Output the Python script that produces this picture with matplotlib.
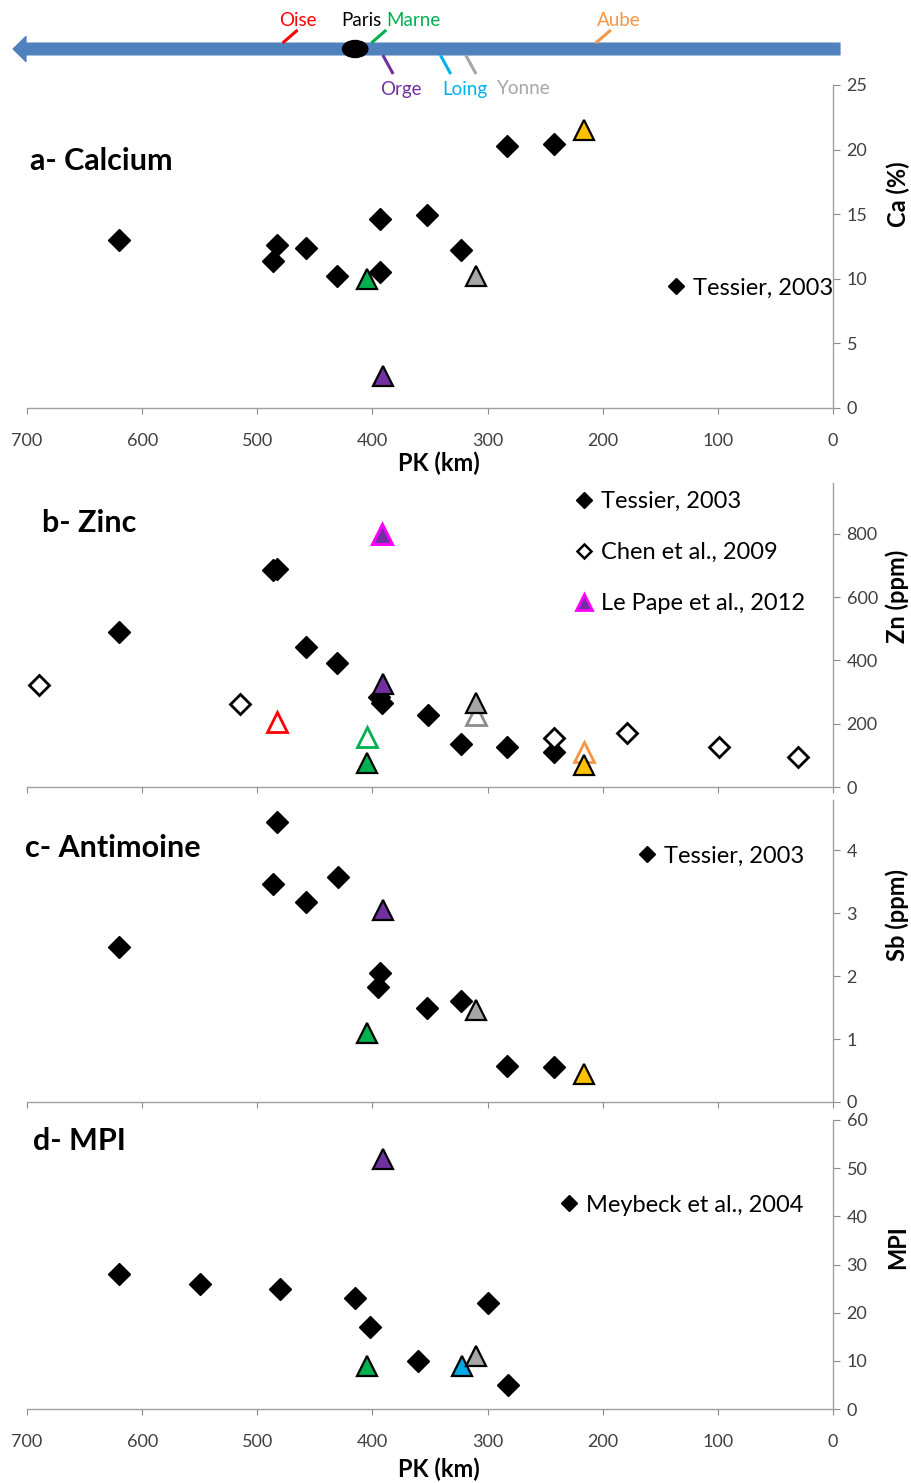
'''
Seine river: Ca, Zn, Sb and MPI along the river (PK), with a river sketch on top
'''
import matplotlib.pyplot as plt
from matplotlib.patches import Ellipse, FancyArrowPatch, ArrowStyle
from matplotlib.lines import Line2D

rc_params = {
    "font.family": ["Lato", "DejaVu Sans"],
    "axes.spines.top": False,
    "axes.spines.left": False,
    "axes.spines.right": True,
    "axes.spines.bottom": True,
    "axes.edgecolor": "#8C8C8C",
    "axes.linewidth": 1.0,
    "xtick.color": "#8C8C8C",
    "ytick.color": "#8C8C8C",
    "xtick.labelcolor": "#404040",
    "ytick.labelcolor": "#404040",
    "xtick.labelsize": 13,
    "ytick.labelsize": 13,
    "xtick.direction": "out",
    "ytick.direction": "out",
    "xtick.major.size": 4.3,
    "ytick.major.size": 4.8,
    "xtick.major.pad": 14,
    "ytick.major.pad": 5,
}
plt.rcParams.update(rc_params)

# ---- data ----
pk_ticks = [0, 100, 200, 300, 400, 500, 600, 700]

# river sketch: confluences (PK, km)
river_names = ["Oise", "Marne", "Aube", "Orge", "Loing", "Yonne"]
river_pk = [478, 401, 206, 391, 341, 319]
river_side = ["up", "up", "up", "down", "down", "down"]
river_colors = ["#FF0000", "#00B050", "#F79646", "#7030A0", "#00B0F0", "#A6A6A6"]
paris_pk = 415

# tributary samples (triangles)
trib_names = ["Oise", "Marne", "Orge", "Loing", "Yonne", "Aube"]
trib_pk = [483, 405, 391, 322, 310, 216]
trib_fill = ["#FF0000", "#00B050", "#7030A0", "#00A8E8", "#A6A6A6", "#FFC000"]
trib_open_edge = ["#FF0000", "#00B050", "#7030A0", "#00A8E8", "#8C8C8C", "#F79646"]

# a- Calcium
ca_tessier_pk = [620, 483, 486, 458, 431, 393, 393, 353, 323, 283, 242]
ca_tessier = [13.0, 12.6, 11.4, 12.4, 10.2, 10.5, 14.6, 14.9, 12.2, 20.3, 20.4]
ca_trib = [None, 10.0, 2.5, None, 10.2, 21.5]

# b- Zinc
zn_tessier_pk = [620, 483, 486, 458, 431, 394, 392, 352, 323, 283, 242]
zn_tessier = [490, 690, 685, 441, 393, 285, 265, 228, 137, 127, 111]
zn_chen_pk = [690, 515, 242, 179, 99, 30]
zn_chen = [322, 262, 155, 169, 125, 95]
zn_lepape_seine_pk = [392]
zn_lepape_seine = [800]
zn_trib = [None, 75, 325, None, 265, 70]
zn_trib_chen = [205, 158, None, None, 227, 112]

# c- Antimoine
sb_tessier_pk = [620, 483, 486, 458, 430, 393, 395, 353, 323, 283, 242]
sb_tessier = [2.46, 4.45, 3.47, 3.18, 3.57, 2.05, 1.82, 1.49, 1.61, 0.57, 0.56]
sb_trib = [None, 1.10, 3.05, None, 1.47, 0.45]

# d- MPI
mpi_meybeck_pk = [620, 550, 480, 415, 402, 360, 300, 282]
mpi_meybeck = [28, 26, 25, 23, 17, 10, 22, 5]
mpi_trib = [None, 9, 52, 9, 11, None]

# ---- layout (pixels of the 912x1483 picture) ----
W, H = 912, 1483
AX_L, AX_R = 27, 833


def fx(px):
    return px / W


def fy(py):
    return 1 - py / H


def make_axes(fig, top, bottom):
    ax = fig.add_axes([fx(AX_L), fy(bottom), (AX_R - AX_L) / W, (bottom - top) / H])
    ax.set_xlim(700, 0)
    ax.set_xticks(pk_ticks)
    ax.yaxis.tick_right()
    ax.patch.set_alpha(0)
    ax.spines["bottom"].set_color("#A0A0A0")
    ax.spines["right"].set_color("#A0A0A0")
    return ax


DIAMOND = dict(marker="D", ms=11, color="black", mec="black", mew=1.0, ls="none", zorder=3)
OPEN_DIAMOND = dict(marker="D", ms=10, mfc="white", mec="black", mew=2.0, ls="none", zorder=3)
TRI = dict(marker="^", ms=14, mec="black", mew=1.6, ls="none", zorder=4)
LEG = dict(frameon=False, fontsize=17, handlelength=0.8, handletextpad=0.3,
           borderpad=0, borderaxespad=0, numpoints=1)


def plot_tribs(ax, values, open_tri=False):
    for pk, val, fc, ec in zip(trib_pk, values, trib_fill, trib_open_edge):
        if val is None:
            continue
        if open_tri:
            ax.plot([pk], [val], marker="^", ms=14, mfc="white", mec=ec, mew=2.0,
                    ls="none", zorder=3)
        else:
            ax.plot([pk], [val], mfc=fc, **TRI)


fig = plt.figure(figsize=(W / 100, H / 100), dpi=100)

# ---- a- Calcium ----
ax_a = make_axes(fig, 85, 408)
ax_a.set_ylim(0, 25)
ax_a.set_yticks([0, 5, 10, 15, 20, 25])
ax_a.plot(ca_tessier_pk, ca_tessier, label="Tessier, 2003", **DIAMOND)
plot_tribs(ax_a, ca_trib)
ax_a.legend(loc="center right", bbox_to_anchor=(fx(833), fy(288)), bbox_transform=fig.transFigure,
            markerscale=0.75, **LEG)

# ---- b- Zinc ----
ax_b = make_axes(fig, 483, 787)
ax_b.set_ylim(0, 960)
ax_b.set_yticks([0, 200, 400, 600, 800])
ax_b.set_xticklabels([])
ax_b.plot(zn_tessier_pk, zn_tessier, **DIAMOND)
ax_b.plot(zn_chen_pk, zn_chen, **OPEN_DIAMOND)
plot_tribs(ax_b, zn_trib_chen, open_tri=True)
plot_tribs(ax_b, zn_trib)
ax_b.plot(zn_lepape_seine_pk, zn_lepape_seine, marker="^", ms=14, mfc="#7030A0",
          mec="#FF00FF", mew=2.2, ls="none", zorder=4)
handles_b = [
    Line2D([], [], **{**DIAMOND, "ms": 8.5}),
    Line2D([], [], **{**OPEN_DIAMOND, "ms": 7.5, "mew": 1.8}),
    Line2D([], [], marker="^", ms=11, mfc="#7030A0", mec="#FF00FF", mew=2.0, ls="none"),
]
ax_b.legend(handles_b, ["Tessier, 2003", "Chen et al., 2009", "Le Pape et al., 2012"],
            loc="upper left", bbox_to_anchor=(fx(575), fy(491)), bbox_transform=fig.transFigure,
            labelspacing=1.28, **LEG)

# ---- c- Antimoine ----
ax_c = make_axes(fig, 800, 1102)
ax_c.set_ylim(0, 4.8)
ax_c.set_yticks([0, 1, 2, 3, 4])
ax_c.set_xticklabels([])
ax_c.plot(sb_tessier_pk, sb_tessier, label="Tessier, 2003", **DIAMOND)
plot_tribs(ax_c, sb_trib)
ax_c.legend(loc="center left", bbox_to_anchor=(fx(638), fy(856)), bbox_transform=fig.transFigure,
            markerscale=0.75, **LEG)

# ---- d- MPI ----
ax_d = make_axes(fig, 1120, 1409)
ax_d.set_ylim(0, 60)
ax_d.set_yticks([0, 10, 20, 30, 40, 50, 60])
ax_d.plot(mpi_meybeck_pk, mpi_meybeck, label="Meybeck et al., 2004", **DIAMOND)
plot_tribs(ax_d, mpi_trib)
ax_d.legend(loc="center left", bbox_to_anchor=(fx(560), fy(1205)), bbox_transform=fig.transFigure,
            markerscale=0.75, **LEG)

# ---- river sketch (drawn last, on top) ----
ax0 = fig.add_axes([fx(AX_L), fy(100), (AX_R - AX_L) / W, 100 / H])
ax0.set_xlim(700, 0)
ax0.set_ylim(100, 0)
ax0.axis("off")
ax0.set_zorder(10)
arrow = FancyArrowPatch((-6, 49), (712, 49),
                        arrowstyle=ArrowStyle.Simple(head_length=9.2, head_width=18, tail_width=8.4),
                        mutation_scale=1, color="#4F81BD", shrinkA=0, shrinkB=0, clip_on=False)
ax0.add_patch(arrow)
for name, pk, side, col in zip(river_names, river_pk, river_side, river_colors):
    if side == "up":
        ax0.plot([pk, pk - 13], [43, 30], color=col, lw=2.2, solid_capstyle="butt")
    else:
        ax0.plot([pk, pk - 9], [55, 74], color=col, lw=2.2, solid_capstyle="butt")
ax0.add_patch(Ellipse((paris_pk, 49), 22, 17, color="black", zorder=5))

sketch_kw = dict(fontsize=13.5, va="center", clip_on=False)
ax0.text(465, 21, "Oise", color="#FF0000", ha="center", **sketch_kw)
ax0.text(392, 21, "Paris", color="black", ha="right", **sketch_kw)
ax0.text(388, 21, "Marne", color="#00B050", ha="left", **sketch_kw)
ax0.text(186, 21, "Aube", color="#F79646", ha="center", **sketch_kw)
ax0.text(393, 89, "Orge", color="#7030A0", ha="left", **sketch_kw)
ax0.text(339, 89, "Loing", color="#00B0F0", ha="left", **sketch_kw)
ax0.text(245, 89, "Yonne", color="#A6A6A6", ha="right", **sketch_kw)

# ---- titles and axis labels ----
title_kw = dict(fontsize=22, fontweight="bold", va="center", ha="left", color="black")
fig.text(fx(30), fy(161), "a- Calcium", **title_kw)
fig.text(fx(42), fy(523), "b- Zinc", **title_kw)
fig.text(fx(25), fy(848), "c- Antimoine", **title_kw)
fig.text(fx(33), fy(1141), "d- MPI", **title_kw)

label_kw = dict(fontsize=17, fontweight="bold", va="center", ha="center", color="black")
fig.text(fx(898), fy(194), "Ca (%)", rotation=90, **label_kw)
fig.text(fx(897), fy(596), "Zn (ppm)", rotation=90, **label_kw)
fig.text(fx(897), fy(915), "Sb (ppm)", rotation=90, **label_kw)
fig.text(fx(898), fy(1247), "MPI", rotation=90, **label_kw)
fig.text(fx(439), fy(463), "PK (km)", **label_kw)
fig.text(fx(439), fy(1469), "PK (km)", **label_kw)

plt.savefig("out.png", dpi=100)
plt.close()
